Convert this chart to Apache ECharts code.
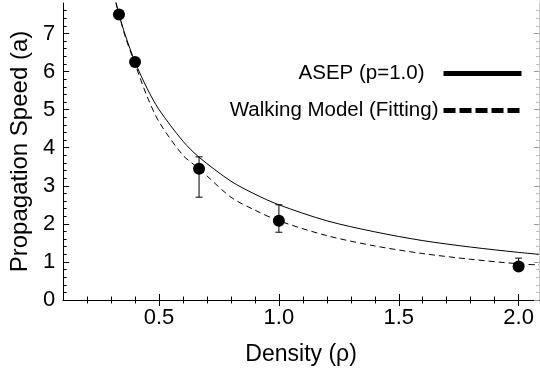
<!DOCTYPE html>
<html>
<head>
<meta charset="utf-8">
<script src="https://cdn.jsdelivr.net/npm/echarts@6/dist/echarts.min.js"></script>
<style>
  html, body { margin: 0; padding: 0; background: #fff; }
  #chart { width: 540px; height: 379px; }
</style>
</head>
<body>
<div id="chart"></div>
<script>
// measured points (density, speed)
const measured = [[0.333, 7.5], [0.4, 6.25], [0.667, 3.45], [1.0, 2.08], [2.0, 0.88]]
// error bars (density, low, high)
const errorBars = [[0.667, 2.7, 3.76], [1.0, 1.78, 2.5], [2.0, 0.8, 1.1]]
// curves
const asepCurve = [
  [0.32, 7.82], [0.333, 7.5], [0.36, 6.94], [0.4, 6.25], [0.45, 5.56], [0.5, 5.0],
  [0.6, 4.17], [0.667, 3.75], [0.8, 3.12], [0.9, 2.78], [1.0, 2.5], [1.2, 2.08],
  [1.4, 1.79], [1.6, 1.56], [1.8, 1.39], [2.0, 1.25], [2.085, 1.2]
]
const walkingCurve = [
  [0.32, 7.82], [0.333, 7.5], [0.36, 6.9], [0.4, 6.2], [0.45, 5.35], [0.5, 4.68],
  [0.6, 3.8], [0.667, 3.45], [0.8, 2.7], [0.9, 2.36], [1.0, 2.08], [1.2, 1.69],
  [1.4, 1.42], [1.6, 1.22], [1.8, 1.07], [2.0, 0.95], [2.085, 0.92]
]
// axis ticks
const xMajor = [0.5, 1.0, 1.5, 2.0]
const xMinor = [0.2, 0.3, 0.4, 0.6, 0.7, 0.8, 0.9, 1.1, 1.2, 1.3, 1.4, 1.6, 1.7, 1.8, 1.9]
const yMajor = [0, 1, 2, 3, 4, 5, 6, 7]
const yMinor = [0.2, 0.4, 0.6, 0.8, 1.2, 1.4, 1.6, 1.8, 2.2, 2.4, 2.6, 2.8, 3.2, 3.4, 3.6, 3.8,
  4.2, 4.4, 4.6, 4.8, 5.2, 5.4, 5.6, 5.8, 6.2, 6.4, 6.6, 6.8, 7.2, 7.4, 7.6]

const X_MIN = 0.1, X_MAX = 2.085, Y_MIN = 0, Y_MAX = 7.8
const font = 'Liberation Sans, Arial, Helvetica, sans-serif'

function tickAxis(kind, position, values, len, color, lineShow, lineColor) {
  return {
    type: 'value',
    position: position,
    min: kind === 'x' ? X_MIN : Y_MIN,
    max: kind === 'x' ? X_MAX : Y_MAX,
    axisLine: { show: lineShow, lineStyle: { color: lineColor || '#000', width: 1 } },
    axisTick: { show: true, inside: true, length: len, customValues: values, lineStyle: { color: color, width: 1 } },
    axisLabel: { show: false },
    splitLine: { show: false }
  }
}

const xBottom = tickAxis('x', 'bottom', xMajor, 6, '#000', true)
xBottom.axisLabel = {
  show: true, customValues: xMajor, margin: 7,
  color: '#000', fontSize: 22, fontFamily: font,
  formatter: v => v.toFixed(1)
}
xBottom.name = 'Density (ρ)'
xBottom.nameLocation = 'middle'
xBottom.nameGap = 43
xBottom.nameTextStyle = { color: '#000', fontSize: 23, fontFamily: font }

const yLeft = tickAxis('y', 'left', yMajor, 6, '#000', true)
yLeft.axisLabel = {
  show: true, customValues: yMajor, margin: 8,
  color: '#000', fontSize: 22, fontFamily: font
}
yLeft.name = 'Propagation Speed (a)'
yLeft.nameLocation = 'middle'
yLeft.nameGap = 30
yLeft.nameTextStyle = { color: '#000', fontSize: 24, fontFamily: font }

const mychart = echarts.init(document.getElementById('chart'))
mychart.setOption({
  animation: false,
  grid: { left: 62, right: 1, top: 3, bottom: 79 },
  xAxis: [
    xBottom,
    tickAxis('x', 'bottom', xMinor, 3.5, '#000', false),
    tickAxis('x', 'top', xMajor, 6, '#000', true),
    tickAxis('x', 'top', xMinor, 3.5, '#000', false)
  ],
  yAxis: [
    yLeft,
    tickAxis('y', 'left', yMinor, 3.5, '#000', false),
    tickAxis('y', 'right', yMajor, 5, '#999', true, '#ccc'),
    tickAxis('y', 'right', yMinor, 3, '#bbb', false)
  ],
  legend: [
    {
      right: 11, top: 58, align: 'right', itemWidth: 78, itemHeight: 14,
      textStyle: { color: '#000', fontSize: 20.5, fontFamily: font, padding: [0, 14, 0, 0] },
      data: [{ name: 'ASEP (p=1.0)', lineStyle: { width: 5, type: 'solid' }, itemStyle: { opacity: 0 } }]
    },
    {
      right: 11, top: 95, align: 'right', itemWidth: 78, itemHeight: 14,
      textStyle: { color: '#000', fontSize: 20.5, fontFamily: font },
      data: [{ name: 'Walking Model (Fitting)', lineStyle: { width: 5, type: [12, 4] }, itemStyle: { opacity: 0 } }]
    }
  ],
  series: [
    {
      name: 'ASEP (p=1.0)',
      type: 'line',
      data: asepCurve,
      smooth: 0.3,
      symbol: 'none',
      clip: true,
      lineStyle: { color: '#000', width: 1 },
      itemStyle: { color: '#000' }
    },
    {
      name: 'Walking Model (Fitting)',
      type: 'line',
      data: walkingCurve,
      smooth: 0.3,
      symbol: 'none',
      clip: true,
      lineStyle: { color: '#000', width: 1, type: [6, 4] },
      itemStyle: { color: '#000' }
    },
    {
      type: 'custom',
      data: errorBars,
      encode: { x: 0, y: [1, 2] },
      renderItem: function (params, api) {
        const x = api.value(0)
        const lo = api.coord([x, api.value(1)])
        const hi = api.coord([x, api.value(2)])
        const cap = 3.5
        const style = { stroke: '#000', lineWidth: 1 }
        return {
          type: 'group',
          children: [
            { type: 'line', shape: { x1: lo[0], y1: lo[1], x2: hi[0], y2: hi[1] }, style: style },
            { type: 'line', shape: { x1: hi[0] - cap, y1: hi[1], x2: hi[0] + cap, y2: hi[1] }, style: style },
            { type: 'line', shape: { x1: lo[0] - cap, y1: lo[1], x2: lo[0] + cap, y2: lo[1] }, style: style }
          ]
        }
      },
      z: 3
    },
    {
      type: 'scatter',
      data: measured,
      symbol: 'circle',
      symbolSize: 12,
      itemStyle: { color: '#000', opacity: 1 },
      z: 4
    }
  ]
})
</script>
</body>
</html>
